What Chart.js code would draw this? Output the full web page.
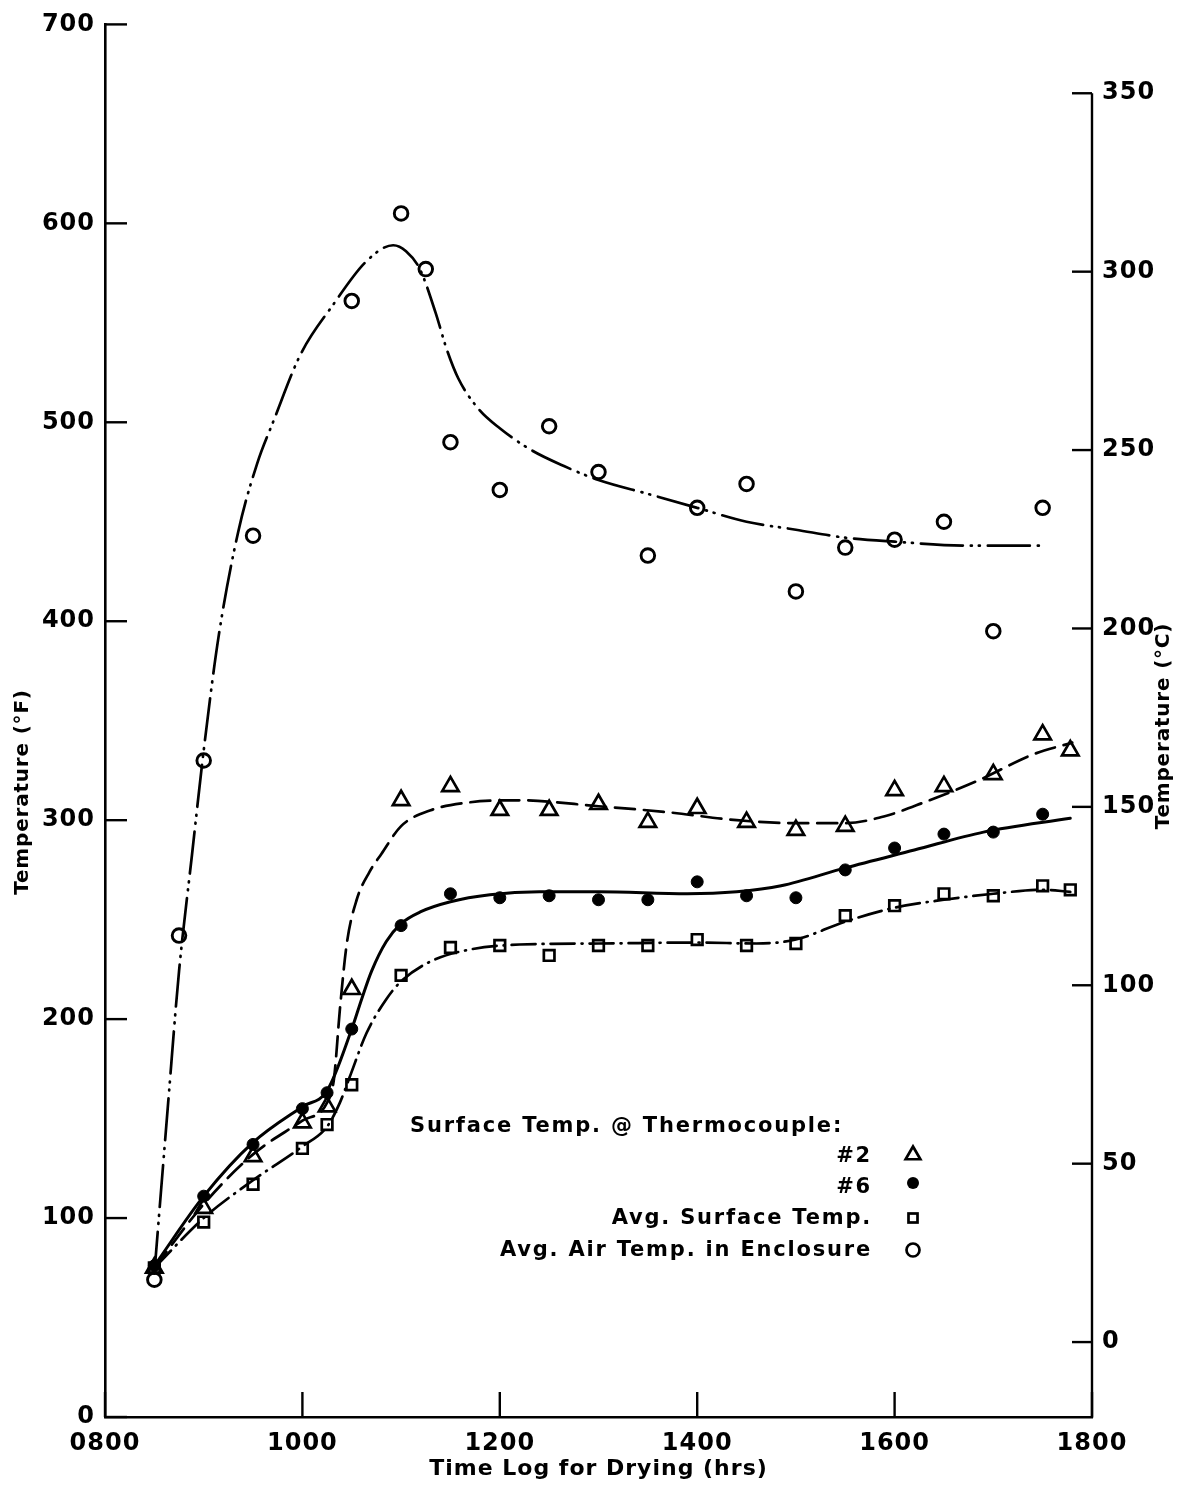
<!DOCTYPE html>
<html>
<head>
<meta charset="utf-8">
<script src="https://cdn.jsdelivr.net/npm/chart.js@4.4.0/dist/chart.umd.min.js"></script>
<style>
html,body{margin:0;padding:0;background:#fff}
#wrap{width:1180px;height:1485px;position:relative}
</style>
</head>
<body>
<div id="wrap"><canvas id="c"></canvas></div>
<script>
// ---------- DATA (time in decimal hours, temperature in °F) ----------
const xTicksHours = [8, 10, 12, 14, 16, 18];

// Avg. Air Temp. in Enclosure (open circles)
const airTimes = [8.5, 8.75, 9.0, 9.5, 10.5, 11.0, 11.25, 11.5, 12.0, 12.5, 13.0, 13.5, 14.0, 14.5, 15.0, 15.5, 16.0, 16.5, 17.0, 17.5];
const airTemps = [69, 242, 330, 443, 561, 605, 577, 490, 466, 498, 475, 433, 457, 469, 415, 437, 441, 450, 395, 457];

// Surface temp @ thermocouple #2 (triangles)
const tc2Times = [8.5, 9.0, 9.5, 10.0, 10.25, 10.5, 11.0, 11.5, 12.0, 12.5, 13.0, 13.5, 14.0, 14.5, 15.0, 15.5, 16.0, 16.5, 17.0, 17.5, 17.78];
const tc2Temps = [75, 105, 131, 148, 156, 215, 310, 317, 305, 305, 308, 299, 306, 299, 295, 297, 315, 317, 323, 343, 335];

// Surface temp @ thermocouple #6 (filled dots)
const tc6Times = [8.5, 9.0, 9.5, 10.0, 10.25, 10.5, 11.0, 11.5, 12.0, 12.5, 13.0, 13.5, 14.0, 14.5, 15.0, 15.5, 16.0, 16.5, 17.0, 17.5];
const tc6Temps = [76, 111, 137, 155, 163, 195, 247, 263, 261, 262, 260, 260, 269, 262, 261, 275, 286, 293, 294, 303];

// Avg. surface temp (open squares)
const avgTimes = [8.5, 9.0, 9.5, 10.0, 10.25, 10.5, 11.0, 11.5, 12.0, 12.5, 13.0, 13.5, 14.0, 14.5, 15.0, 15.5, 16.0, 16.5, 17.0, 17.5, 17.78];
const avgTemps = [75, 98, 117, 135, 147, 167, 222, 236, 237, 232, 237, 237, 240, 237, 238, 252, 257, 263, 262, 267, 265];

// Hand-drawn fitted curves
const airFitTimes = [8.50, 8.64, 8.75, 8.88, 9.00, 9.15, 9.35, 9.54, 9.71, 9.98, 10.31, 10.65, 10.92, 11.05, 11.19, 11.35, 11.46, 11.58, 11.78, 12.0, 12.32, 12.65, 13.0, 13.5, 14.0, 14.5, 15.0, 15.5, 16.0, 16.75, 17.52];
const airFitTemps = [72, 158, 224, 282, 335, 392, 445, 479, 501, 534, 559, 581, 589, 586, 577, 555, 537, 522, 507, 497, 486, 478, 471, 464, 457, 450, 446, 442, 440, 438, 438];

const tc2FitTimes = [8.5, 9.0, 9.5, 10.0, 10.25, 10.32, 10.38, 10.45, 10.55, 10.68, 10.8, 11.0, 11.3, 11.7, 12.2, 13.0, 13.7, 14.4, 15.0, 15.5, 15.9, 16.3, 16.85, 17.4, 17.8];
const tc2FitTemps = [75, 107, 132, 149, 158, 170, 205, 238, 260, 274, 283, 297, 305, 309, 310, 307, 304, 300, 298.5, 298.5, 302, 309, 320, 333, 339];

const tc6FitTimes = [8.5, 9.0, 9.5, 10.0, 10.25, 10.5, 10.6, 10.7, 10.85, 11.0, 11.2, 11.5, 11.9, 12.4, 13.0, 13.9, 14.4, 14.85, 15.5, 16.2, 16.9, 17.78];
const tc6FitTemps = [76, 111, 138, 156, 164, 195, 210, 224, 239, 248, 254, 259, 262.5, 264, 264, 263, 264, 267, 276, 285, 294, 301];

const avgFitTimes = [8.5, 9.0, 9.5, 10.0, 10.25, 10.38, 10.48, 10.65, 10.85, 11.0, 11.3, 11.7, 12.2, 13.0, 14.0, 14.6, 15.0, 15.5, 16.0, 16.5, 17.0, 17.5, 17.78];
const avgFitTemps = [75, 100, 119, 136, 146, 158, 171, 193, 210, 219, 229, 235, 237.5, 238, 238.5, 238, 240, 249, 256, 260, 263, 265, 264];

const legendTitle = 'Surface Temp. @ Thermocouple:';
const legendLabels = ['#2', '#6', 'Avg. Surface Temp.', 'Avg. Air Temp. in Enclosure'];

// ---------- CHART ----------
const FONT = '"DejaVu Sans", sans-serif';
const BLACK = '#000';
const pts = (xs, ys) => xs.map((x, i) => ({ x: x, y: ys[i] }));
const hhmm = v => String(Math.round(v * 100)).padStart(4, '0');

const markerSets = [
  { label: legendLabels[0], data: pts(tc2Times, tc2Temps), pointStyle: 'triangle', pointRadius: 9.5, pointBorderWidth: 2.7, pointBackgroundColor: 'rgba(0,0,0,0)' },
  { label: legendLabels[1], data: pts(tc6Times, tc6Temps), pointStyle: 'circle', pointRadius: 6, pointBorderWidth: 1, pointBackgroundColor: BLACK },
  { label: legendLabels[2], data: pts(avgTimes, avgTemps), pointStyle: 'rect', pointRadius: 7.5, pointBorderWidth: 2.7, pointBackgroundColor: 'rgba(0,0,0,0)' },
  { label: legendLabels[3], data: pts(airTimes, airTemps), pointStyle: 'circle', pointRadius: 6.8, pointBorderWidth: 2.9, pointBackgroundColor: 'rgba(0,0,0,0)' }
].map(d => Object.assign(d, { showLine: false, pointBorderColor: BLACK, order: 0, yAxisID: 'y' }));

const fitSets = [
  { label: 'fit #2', data: pts(tc2FitTimes, tc2FitTemps), borderDash: [20, 9], borderWidth: 2.7 },
  { label: 'fit #6', data: pts(tc6FitTimes, tc6FitTemps), borderDash: [], borderWidth: 3 },
  { label: 'fit avg', data: pts(avgFitTimes, avgFitTemps), borderDash: [24, 7, 1, 7], borderWidth: 2.7 },
  { label: 'fit air', data: pts(airFitTimes, airFitTemps), borderDash: [42, 8, 1, 7, 1, 8], borderWidth: 2.7 }
].map(d => Object.assign(d, { showLine: true, pointRadius: 0, borderColor: BLACK, borderCapStyle: 'round', cubicInterpolationMode: 'monotone', fill: false, order: 1, yAxisID: 'y' }));

function line(ctx, x1, y1, x2, y2) { ctx.beginPath(); ctx.moveTo(x1, y1); ctx.lineTo(x2, y2); ctx.stroke(); }

const decor = {
  id: 'decor',
  beforeDraw(chart) { chart.ctx.letterSpacing = '1px'; },
  afterDraw(chart) {
    const { ctx, chartArea: ca, scales } = chart;
    const sx = scales.x, sy = scales.y, sy2 = scales.y2;
    ctx.save();
    ctx.strokeStyle = BLACK; ctx.fillStyle = BLACK; ctx.lineWidth = 2.4; ctx.lineCap = 'butt';
    // inward tick marks
    sy.ticks.forEach(t => { const p = sy.getPixelForValue(t.value); line(ctx, ca.left, p, ca.left + 22, p); });
    sy2.ticks.forEach(t => { const p = sy2.getPixelForValue(t.value); line(ctx, ca.right - 20, p, ca.right, p); });
    sx.ticks.forEach(t => { const p = sx.getPixelForValue(t.value); line(ctx, p, ca.bottom, p, ca.bottom - 25); });
    // right axis line, from the top °C tick down to the time axis
    const topC = sy2.ticks[sy2.ticks.length - 1].value;
    line(ctx, ca.right, sy2.getPixelForValue(topC), ca.right, ca.bottom + 1);

    // vertical axis titles (both read bottom-to-top)
    ctx.letterSpacing = '0.8px';
    ctx.font = 'bold 20px ' + FONT;
    ctx.textAlign = 'center'; ctx.textBaseline = 'middle';
    ctx.save(); ctx.translate(23, 792); ctx.rotate(-Math.PI / 2); ctx.fillText('Temperature (\u00B0F)', 0, 0); ctx.restore();
    ctx.save(); ctx.translate(1164, 726); ctx.rotate(-Math.PI / 2); ctx.fillText('Temperature (\u00B0C)', 0, 0); ctx.restore();

    // legend
    ctx.letterSpacing = '1.8px';
    ctx.font = 'bold 21px ' + FONT;
    ctx.textAlign = 'left';
    ctx.fillText(legendTitle, 410, 1127);
    ctx.textAlign = 'right';
    const rows = [1157, 1188, 1219, 1251];
    legendLabels.forEach((lab, i) => ctx.fillText(lab, 872, rows[i]));
    const mx = 913;
    ctx.lineWidth = 2.7;
    // triangle
    let r = 8.5, y0 = 1155;
    ctx.beginPath();
    ctx.moveTo(mx, y0 - r);
    ctx.lineTo(mx + r * Math.sin(2 * Math.PI / 3), y0 - r * Math.cos(2 * Math.PI / 3));
    ctx.lineTo(mx + r * Math.sin(4 * Math.PI / 3), y0 - r * Math.cos(4 * Math.PI / 3));
    ctx.closePath(); ctx.stroke();
    // dot
    ctx.beginPath(); ctx.arc(mx, 1183, 6, 0, Math.PI * 2); ctx.fill();
    // square
    ctx.strokeRect(mx - 4.5, 1218 - 4.5, 9, 9);
    // circle
    ctx.beginPath(); ctx.arc(mx, 1250, 6.5, 0, Math.PI * 2); ctx.stroke();
    ctx.restore();
  }
};

const tickFont = { family: FONT, size: 24, weight: 'bold' };

new Chart(document.getElementById('c'), {
  type: 'scatter',
  data: { datasets: fitSets.concat(markerSets) },
  plugins: [decor],
  options: {
    responsive: true,
    maintainAspectRatio: false,
    animation: false,
    layout: { padding: { top: 23, left: 0, right: 0, bottom: 0 } },
    plugins: { legend: { display: false }, tooltip: { enabled: false } },
    scales: {
      x: {
        type: 'linear', position: 'bottom', min: xTicksHours[0], max: xTicksHours[xTicksHours.length - 1],
        afterFit: s => { s.height = 68; },
        afterBuildTicks: s => { s.ticks = xTicksHours.map(v => ({ value: v })); },
        border: { display: true, color: BLACK, width: 2.6 },
        grid: { drawOnChartArea: false, drawTicks: false },
        ticks: { color: BLACK, font: tickFont, padding: 12, maxRotation: 0, autoSkip: false, callback: v => hhmm(v) },
        title: { display: true, text: 'Time Log for Drying (hrs)', color: BLACK, font: { family: FONT, size: 22, weight: 'bold' }, padding: { top: 0, bottom: 3 } }
      },
      y: {
        type: 'linear', position: 'left', min: 0, max: 700,
        afterFit: s => { s.width = 105; },
        border: { display: true, color: BLACK, width: 2.6 },
        grid: { drawOnChartArea: false, drawTicks: false },
        ticks: { stepSize: 100, color: BLACK, font: tickFont, padding: 10 }
      },
      y2: {
        type: 'linear', position: 'right', min: -21, max: 369.3,
        afterFit: s => { s.width = 88; },
        border: { display: false },
        grid: { drawOnChartArea: false, drawTicks: false },
        ticks: { stepSize: 50, includeBounds: false, color: BLACK, font: tickFont, padding: 10 }
      }
    }
  }
});
</script>
</body>
</html>
